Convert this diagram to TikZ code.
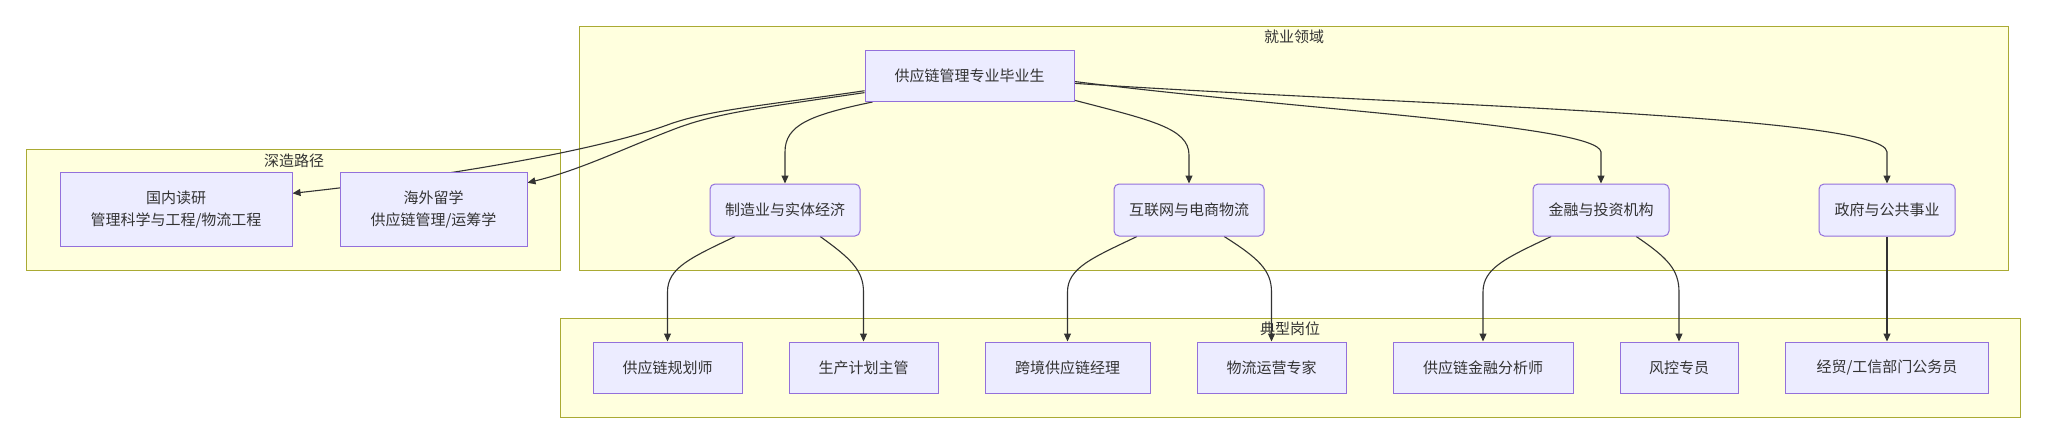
\documentclass[tikz,border=0pt]{standalone}
\usepackage{fontspec}
\setmainfont{Noto Sans CJK SC}
\usepackage{tikz}
\usetikzlibrary{arrows.meta}
\definecolor{clusterfill}{HTML}{FFFFDE}
\definecolor{clusterline}{HTML}{AAAA33}
\definecolor{boxfill}{HTML}{ECECFF}
\definecolor{boxline}{HTML}{9370DB}
\definecolor{inkgray}{HTML}{333333}
\pgfdeclarelayer{clusters}
\pgfdeclarelayer{edges}
\pgfsetlayers{clusters,edges,main}
\tikzstyle{cluster} = [draw=clusterline, fill=clusterfill, line width=1pt]
\tikzstyle{clustertitle} = [text=inkgray, font=\fontsize{15}{18}\selectfont, inner sep=0pt]
\tikzstyle{jobbox} = [draw=boxline, fill=boxfill, line width=1pt, rectangle, text=inkgray, font=\fontsize{15}{22}\selectfont, align=center, inner sep=0pt, minimum height=51pt]
\tikzstyle{fieldbox} = [jobbox, rounded corners=5pt, minimum height=52pt]
\tikzstyle{link} = [draw=inkgray, line width=1.1pt, -{Triangle[length=8pt,width=7pt]}]

\begin{document}
\begin{tikzpicture}[x=1pt,y=-1pt]
\useasboundingbox (0,0) rectangle (2048,444);

\begin{pgfonlayer}{clusters}
\fill[white] (0,0) rectangle (2048,444);
\draw[cluster] (26,149) rectangle (560,270);
\draw[cluster] (579,27) rectangle (2008,270);
\draw[cluster] (560,318) rectangle (2020,417);
\end{pgfonlayer}
\node[clustertitle] (tstudy) at (294,161) {深造路径};
\node[clustertitle] (twork) at (1294,37) {就业领域};
\node[clustertitle] (tjobs) at (1290,329) {典型岗位};

\node[jobbox, minimum width=209pt] (root) at (969.5,76) {供应链管理专业毕业生};
\node[jobbox, minimum width=232pt, minimum height=74pt] (guonei) at (176,209.7) {国内读研\\管理科学与工程/物流工程};
\node[jobbox, minimum width=187pt, minimum height=74pt] (haiwai) at (433.5,209.7) {海外留学\\供应链管理/运筹学};

\node[fieldbox, minimum width=150pt] (zhizao) at (785,210) {制造业与实体经济};
\node[fieldbox, minimum width=150pt] (hulian) at (1189,210) {互联网与电商物流};
\node[fieldbox, minimum width=136pt] (jinrong) at (1601,210) {金融与投资机构};
\node[fieldbox, minimum width=136pt] (zhengfu) at (1887,210) {政府与公共事业};

\node[jobbox, minimum width=149pt] (guihua) at (667.5,367.5) {供应链规划师};
\node[jobbox, minimum width=149pt] (shengchan) at (863.5,367.5) {生产计划主管};
\node[jobbox, minimum width=165pt] (kuajing) at (1067.5,367.5) {跨境供应链经理};
\node[jobbox, minimum width=149pt] (wuliu) at (1271.5,367.5) {物流运营专家};
\node[jobbox, minimum width=180pt] (jrfenxi) at (1483,367.5) {供应链金融分析师};
\node[jobbox, minimum width=118pt] (fengkong) at (1679,367.5) {风控专员};
\node[jobbox, minimum width=203pt] (jingmao) at (1887,367.5) {经贸/工信部门公务员};

\begin{pgfonlayer}{edges}
\draw[link] (root.188) .. controls (760,106) and (710,110) .. (670,124)
  .. controls (600,150) and (450,176) .. (guonei.8);
\draw[link] (root.189) .. controls (760,108) and (715,113) .. (672,130)
  .. controls (620,150) and (580,170) .. (haiwai.16);
\draw[link] (root.195) .. controls (810,115) and (zhizao.north |- 0,125) .. (zhizao.north |- 0,152) -- (zhizao.north);
\draw[link] (root.347) .. controls (1150,120) and (hulian.north |- 0,128) .. (hulian.north |- 0,155) -- (hulian.north);
\draw[link] (root.357) .. controls (1300,110) and (1598,125) .. (jinrong.north |- 0,152) -- (jinrong.north);
\draw[link] (root.356) .. controls (1400,105) and (1885,115) .. (zhengfu.north |- 0,152) -- (zhengfu.north);

\draw[link] (zhizao.208) .. controls (690,258) and (guihua.north |- 0,268) .. (guihua.north |- 0,292) -- (guihua.north);
\draw[link] (zhizao.323) .. controls (850,258) and (shengchan.north |- 0,270) .. (shengchan.north |- 0,292) -- (shengchan.north);
\draw[link] (hulian.207) .. controls (1092,258) and (kuajing.north |- 0,268) .. (kuajing.north |- 0,292) -- (kuajing.north);
\draw[link] (hulian.323) .. controls (1258,258) and (wuliu.north |- 0,270) .. (wuliu.north |- 0,292) -- (wuliu.north);
\draw[link] (jinrong.208) .. controls (1506,258) and (jrfenxi.north |- 0,268) .. (jrfenxi.north |- 0,292) -- (jrfenxi.north);
\draw[link] (jinrong.323) .. controls (1668,258) and (fengkong.north |- 0,270) .. (fengkong.north |- 0,292) -- (fengkong.north);
\draw[link] (zhengfu.south) -- (jingmao.north);
\end{pgfonlayer}
\end{tikzpicture}
\end{document}
